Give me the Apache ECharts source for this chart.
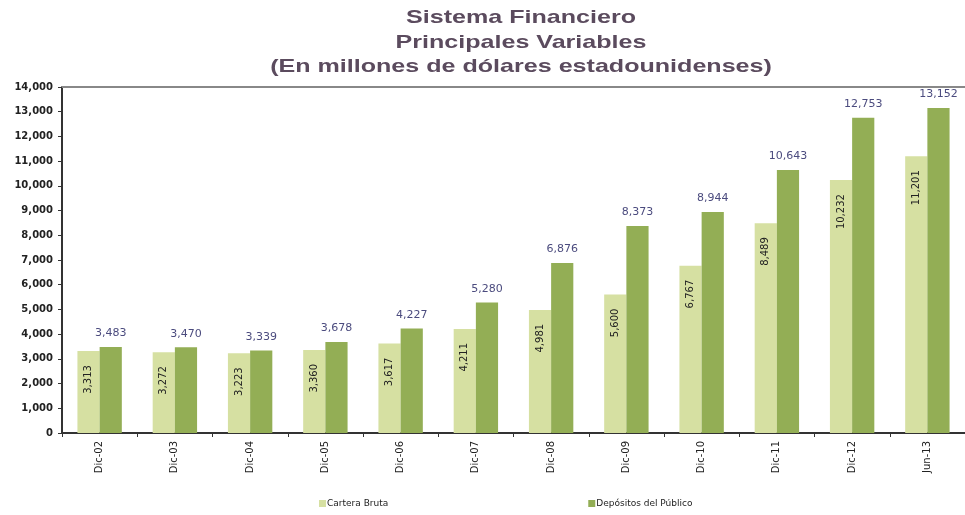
<!DOCTYPE html>
<html>
<head>
<meta charset="utf-8">
<script src="https://cdn.jsdelivr.net/npm/echarts@6/dist/echarts.min.js"></script>
<style>
    html, body { margin: 0; padding: 0; background: #fff; }
    #chart { width: 965px; height: 515px; }
</style>
</head>
<body>
<div id="chart"></div>
<script>
    const categories = ['Dic-02', 'Dic-03', 'Dic-04', 'Dic-05', 'Dic-06', 'Dic-07', 'Dic-08', 'Dic-09', 'Dic-10', 'Dic-11', 'Dic-12', 'Jun-13']
    const carteraBruta = [3313, 3272, 3223, 3360, 3617, 4211, 4981, 5600, 6767, 8489, 10232, 11201]
    const depositos = [3483, 3470, 3339, 3678, 4227, 5280, 6876, 8373, 8944, 10643, 12753, 13152]

    const fmt = v => v.toLocaleString('en-US')
    const font = 'DejaVu Sans'

    const chart = echarts.init(document.getElementById('chart'))
    chart.setOption({
        animation: false,
        // titulo estirado horizontalmente como en la imagen original
        graphic: [{
            type: 'text',
            x: 521,
            y: 6,
            scaleX: 1.32,
            style: {
                text: 'Sistema Financiero\nPrincipales Variables\n(En millones de dólares estadounidenses)',
                fill: '#5b4b5e',
                font: 'bold 19px "Liberation Sans"',
                textAlign: 'center',
                lineHeight: 24.5
            }
        }],
        legend: {
            bottom: 2,
            left: 314,
            itemGap: 200,
            itemWidth: 7,
            itemHeight: 7,
            icon: 'rect',
            textStyle: {
                color: '#222',
                fontFamily: font,
                fontSize: 9,
                padding: [0, 0, 0, -4]
            }
        },
        grid: { left: 62, width: 908, top: 87, bottom: 82 },
        xAxis: [
            {
                type: 'category',
                data: categories,
                axisLine: { lineStyle: { color: '#333', width: 2 } },
                axisTick: { show: true, length: 4, lineStyle: { color: '#333' } },
                axisLabel: {
                    rotate: 90,
                    color: '#222',
                    fontFamily: font,
                    fontSize: 10,
                    margin: 8
                }
            },
            {
                type: 'category',
                position: 'top',
                data: categories,
                axisLine: { lineStyle: { color: '#888', width: 2 } },
                axisTick: { show: false },
                axisLabel: { show: false }
            }
        ],
        yAxis: {
            type: 'value',
            min: 0,
            max: 14000,
            interval: 1000,
            axisLine: { show: true, lineStyle: { color: '#333', width: 2 } },
            axisTick: { show: true, length: 4, lineStyle: { color: '#333' } },
            splitLine: { show: false },
            axisLabel: {
                formatter: v => fmt(v),
                color: '#222',
                fontFamily: font,
                fontSize: 10,
                fontWeight: 'bold',
                margin: 9
            }
        },
        series: [
            {
                name: 'Cartera Bruta',
                type: 'bar',
                data: carteraBruta,
                barGap: '0%',
                barCategoryGap: '41%',
                itemStyle: { color: '#d6e0a2' },
                label: {
                    show: true,
                    position: 'insideTop',
                    distance: 14,
                    rotate: 90,
                    align: 'right',
                    verticalAlign: 'middle',
                    formatter: p => fmt(p.value),
                    color: '#222',
                    fontFamily: font,
                    fontSize: 10
                }
            },
            {
                name: 'Depósitos del Público',
                type: 'bar',
                data: depositos,
                itemStyle: { color: '#93ae55' },
                label: {
                    show: true,
                    position: 'top',
                    distance: 8,
                    formatter: p => fmt(p.value),
                    color: '#4b4b7e',
                    fontFamily: font,
                    fontSize: 11
                }
            }
        ]
    })
</script>
</body>
</html>
